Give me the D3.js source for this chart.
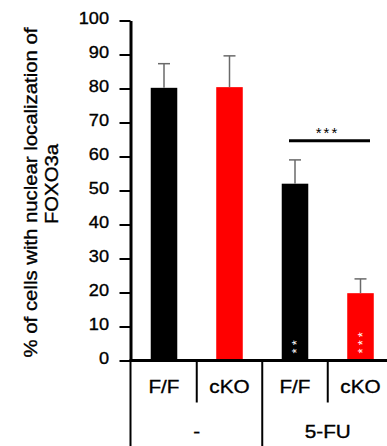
<!DOCTYPE html>
<html>
<head>
<meta charset="utf-8">
<script src="https://cdn.jsdelivr.net/npm/d3@7"></script>
<style>
  html, body { margin: 0; padding: 0; background: #fff; }
  svg { display: block; font-family: "Liberation Sans", Arial, Helvetica, sans-serif; }
  .lbl { stroke: #000; stroke-width: 0.35px; }
</style>
</head>
<body>
<svg id="chart" width="387" height="446"></svg>
<script>
// ---- data ----
const categories = ["F/F", "cKO", "F/F", "cKO"];
const groups = ["-", "5-FU"];
const values = [80.2, 80.4, 52.0, 19.8];
const errors = [7.1, 9.2, 7.0, 4.2];
const barColors = ["#000000", "#ff0000", "#000000", "#ff0000"];
const innerStars = ["", "", "**", "***"];
const yTicks = [0, 10, 20, 30, 40, 50, 60, 70, 80, 90, 100];
const sigLabel = "***";
const sigLevel = 64.6;
const yLabelLines = ["% of cells with nuclear localization of", "FOXO3a"];

// ---- layout ----
const svg = d3.select("#chart");
const axisX = 130.5;
const xLeft = 131.25, xRight = 393.25;
const y = d3.scaleLinear().domain([0, 100]).range([360.5, 20.5]);
const idx = categories.map((d, i) => i);
const x = d3.scaleBand().domain(idx).range([xLeft, xRight])
  .paddingInner(0.595).paddingOuter(0.2975);
const step = x.step();
const cx = i => x(i) + x.bandwidth() / 2;
const sx = 1.12;

// bars
svg.append("g").selectAll("rect").data(idx).join("rect")
  .attr("x", i => x(i))
  .attr("width", x.bandwidth())
  .attr("y", i => y(values[i]))
  .attr("height", i => y(0) - y(values[i]))
  .attr("fill", i => barColors[i]);

// error bars
const eb = svg.append("g").attr("stroke", "#6a6a6a").attr("stroke-width", 1.5);
idx.forEach(i => {
  eb.append("line").attr("x1", cx(i)).attr("x2", cx(i))
    .attr("y1", y(values[i])).attr("y2", y(values[i] + errors[i]));
  eb.append("line").attr("x1", cx(i) - 6).attr("x2", cx(i) + 6)
    .attr("y1", y(values[i] + errors[i])).attr("y2", y(values[i] + errors[i]));
});

// stars inside bars (stacked vertically: one rotated text)
idx.forEach(i => {
  const s = innerStars[i];
  if (!s) return;
  const fs = 13;
  const bottomCenter = y(0) - 9.5;
  svg.append("text")
    .attr("transform", `translate(${cx(i) + 0.58 * fs - 1.5},${bottomCenter + 2.5}) rotate(-90)`)
    .attr("text-anchor", "start").attr("font-size", fs)
    .attr("letter-spacing", 3.1)
    .attr("fill", "#fff").text(s);
});

// significance line
const sx1 = cx(2) - 6, sx2 = cx(3) + 9.5;
svg.append("line").attr("x1", sx1).attr("x2", sx2)
  .attr("y1", y(sigLevel)).attr("y2", y(sigLevel))
  .attr("stroke", "#000").attr("stroke-width", 3);
svg.append("text").attr("x", (sx1 + sx2) / 2 - 2).attr("y", y(sigLevel) - 12 + 0.58 * 15)
  .attr("text-anchor", "middle").attr("font-size", 15)
  .attr("letter-spacing", 2).attr("fill", "#000").text(sigLabel);

// y axis
const yAxis = d3.axisLeft(y).tickValues(yTicks).tickSize(11).tickPadding(10).tickSizeOuter(0);
const gy = svg.append("g").attr("transform", `translate(${axisX},0)`).call(yAxis);
gy.select(".domain").attr("stroke", "#000").attr("stroke-width", 3);
gy.selectAll(".tick line").attr("stroke", "#000").attr("stroke-width", 2);
gy.selectAll(".tick text")
  .attr("class", "lbl")
  .attr("font-size", 16.5)
  .attr("font-family", "'Liberation Sans', Arial, sans-serif")
  .attr("fill", "#000")
  .attr("x", -21.5 / 1.1)
  .attr("dy", "0.32em")
  .attr("transform", "translate(0,-2.3) scale(1.1,1)");

// axis extension below baseline and table lines
const tl = svg.append("g").attr("stroke", "#000");
tl.append("line").attr("x1", axisX).attr("x2", axisX).attr("y1", y(0)).attr("y2", 446).attr("stroke-width", 2);
tl.append("line").attr("x1", axisX - 1).attr("x2", 387).attr("y1", y(0)).attr("y2", y(0)).attr("stroke-width", 3);
[0, 2].forEach(i => {
  tl.append("line").attr("x1", cx(i) + step / 2).attr("x2", cx(i) + step / 2)
    .attr("y1", y(0)).attr("y2", 402.5).attr("stroke-width", 2);
});
tl.append("line").attr("x1", cx(1) + step / 2).attr("x2", cx(1) + step / 2)
  .attr("y1", y(0)).attr("y2", 446).attr("stroke-width", 2);

// category labels
idx.forEach(i => {
  svg.append("text").attr("class", "lbl")
    .attr("transform", `translate(${cx(i)},393) scale(${sx},1)`)
    .attr("text-anchor", "middle").attr("font-size", 18.5).attr("fill", "#000")
    .text(categories[i]);
});
// group labels
groups.forEach((g, j) => {
  const gx = (cx(2 * j) + cx(2 * j + 1)) / 2;
  svg.append("text").attr("class", "lbl")
    .attr("transform", `translate(${gx},438) scale(${sx},1)`)
    .attr("text-anchor", "middle").attr("font-size", 18.5).attr("fill", "#000")
    .text(g);
});

// y label
const ylx = [37, 58], ylc = [192.5, 184];
yLabelLines.forEach((t, k) => {
  svg.append("text").attr("class", "lbl")
    .attr("transform", `translate(${ylx[k]},${ylc[k]}) rotate(-90) scale(1.13,1)`)
    .attr("text-anchor", "middle").attr("font-size", 18).attr("fill", "#000")
    .text(t);
});
</script>
</body>
</html>
